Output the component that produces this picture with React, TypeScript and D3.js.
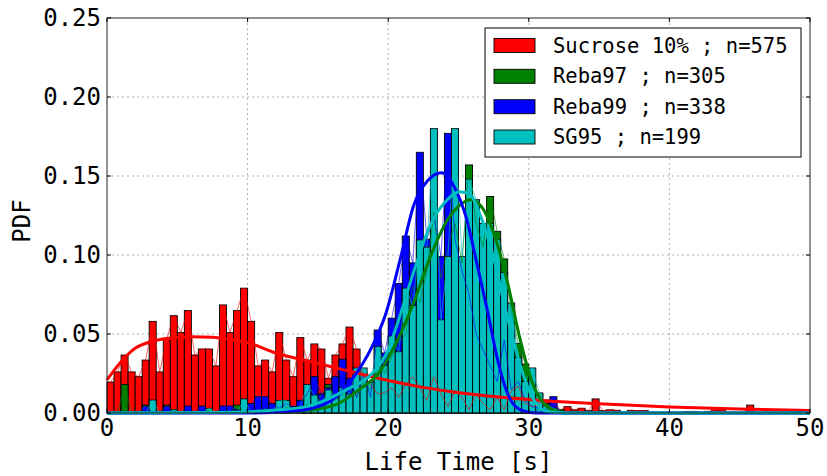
import React, { useRef, useEffect } from 'react';
import * as d3 from 'd3';

// histogram bins: 0..50 in steps of 0.5
const binEdges: number[] = d3.range(0, 50, 0.5);
const binWidth = 0.5;

const sucrose: number[] = [
  0.0196, 0.026, 0.0367, 0.026, 0.023, 0.0335, 0.058, 0.026, 0.047, 0.0616,
  0.051, 0.0648, 0.0367, 0.0405, 0.0405, 0.0298, 0.0684, 0.051, 0.0648, 0.079,
  0.058, 0.0298, 0.0335, 0.026, 0.051, 0.0335, 0.023, 0.0477, 0.0335, 0.0437,
  0.0405, 0.022, 0.0367, 0.0437, 0.0544, 0.0405, 0.022, 0.018, 0.012, 0.013,
  0.016, 0.01, 0.018, 0.023, 0.016, 0.008, 0.023, 0.012, 0.004, 0.014,
  0.01, 0.002, 0.012, 0.006, 0.002, 0.01, 0.002, 0.014, 0.017, 0.006,
  0.004, 0.006, 0.0082, 0.006, 0.002, 0.004, 0.002, 0.003, 0.0015, 0.0089,
  0.0015, 0.002, 0.0017, 0, 0.0017, 0.0015, 0.0015, 0, 0, 0,
  0, 0, 0.001, 0.001, 0, 0.001, 0.002, 0.002, 0, 0,
  0, 0.005, 0, 0, 0, 0, 0, 0, 0.002, 0,
];

const reba97: number[] = [
  0, 0, 0.018, 0, 0, 0.005, 0, 0, 0.005, 0,
  0, 0, 0, 0, 0.002, 0, 0, 0, 0.005, 0,
  0, 0, 0.003, 0, 0, 0.004, 0, 0, 0.006, 0,
  0.012, 0.018, 0.008, 0.012, 0.016, 0.01, 0.02, 0.015, 0.03, 0.025,
  0.036, 0.045, 0.05, 0.08, 0.07, 0.09, 0.127, 0.085, 0.105, 0.12,
  0.095, 0.157, 0.12, 0.105, 0.137, 0.115, 0.0975, 0.065, 0.044, 0.031,
  0.018, 0.012, 0.006, 0.003, 0.002, 0, 0.001, 0, 0, 0,
  0, 0, 0, 0, 0, 0, 0, 0, 0, 0,
  0, 0, 0, 0, 0, 0, 0, 0, 0, 0,
  0, 0, 0, 0, 0, 0, 0, 0, 0, 0,
];

const reba99: number[] = [
  0, 0, 0, 0, 0, 0.0044, 0, 0, 0.0044, 0,
  0, 0.0044, 0, 0.0044, 0, 0, 0.0044, 0.0044, 0.002, 0,
  0.006, 0.0103, 0.0103, 0.006, 0.003, 0.006, 0.004, 0.008, 0.012, 0.023,
  0.012, 0.016, 0.023, 0.034, 0.022, 0.01, 0.025, 0.01, 0.0525, 0.038,
  0.06, 0.082, 0.112, 0.095, 0.165, 0.11, 0.125, 0.099, 0.177, 0.11,
  0.09, 0.075, 0.05, 0.04, 0.03, 0.02, 0.046, 0.015, 0.02, 0.008,
  0.004, 0.003, 0.002, 0.0103, 0, 0, 0, 0, 0, 0,
  0, 0, 0, 0, 0, 0, 0, 0, 0, 0,
  0, 0, 0, 0, 0, 0, 0, 0, 0, 0,
  0, 0, 0, 0, 0, 0, 0, 0, 0, 0,
];

const sg95: number[] = [
  0, 0, 0, 0, 0, 0, 0.0082, 0, 0, 0.002,
  0, 0, 0, 0, 0.003, 0, 0, 0, 0, 0.0089,
  0, 0, 0, 0, 0.008, 0.008, 0, 0.004, 0.018, 0.0114,
  0.005, 0.0146, 0.01, 0.016, 0.012, 0.0285, 0.0285, 0.0196, 0.042, 0.03,
  0.0487, 0.0388, 0.079, 0.068, 0.1095, 0.105, 0.18, 0.059, 0.099, 0.18,
  0.099, 0.148, 0.135, 0.12, 0.12, 0.11, 0.089, 0.0696, 0.035, 0.02,
  0.0285, 0.0127, 0.005, 0.003, 0.001, 0, 0, 0, 0, 0,
  0, 0, 0, 0, 0, 0, 0, 0, 0, 0,
  0, 0, 0, 0, 0, 0, 0, 0, 0, 0,
  0, 0, 0, 0, 0, 0, 0, 0, 0, 0,
];

// fitted curves as [time, pdf]
const sucroseFit: [number, number][] = [
  [0, 0.021], [1, 0.0325], [2, 0.041], [3, 0.0448], [4.5, 0.0475], [6, 0.0482],
  [7.5, 0.048], [9, 0.0462], [10, 0.0445], [12, 0.038], [14.5, 0.0325], [17, 0.027],
  [19.3, 0.022], [22, 0.017], [24.5, 0.0135], [26.6, 0.0112], [30, 0.0085],
  [35, 0.0058], [40, 0.0038], [45, 0.0025], [50, 0.0016],
];
const reba97Fit: [number, number][] = [
  [0, 0], [12, 0.0005], [14.5, 0.002], [16.45, 0.006], [17.9, 0.0146], [19.3, 0.025],
  [20.6, 0.045], [21.8, 0.0695], [23, 0.099], [24.2, 0.122], [25.1, 0.1316],
  [25.85, 0.135], [26.6, 0.131], [27.5, 0.114], [28.5, 0.082], [29.4, 0.046],
  [30.3, 0.018], [31.3, 0.004], [32.5, 0], [50, 0],
];
const reba99Fit: [number, number][] = [
  [0, 0], [10, 0], [12, 0.0005], [13.2, 0.0012], [14.6, 0.003], [16, 0.0082],
  [17.4, 0.021], [18.85, 0.042], [19.8, 0.062], [20.9, 0.099], [21.8, 0.131],
  [22.8, 0.147], [23.8, 0.152], [24.7, 0.143], [25.6, 0.122], [26.3, 0.095],
  [27.05, 0.065], [27.8, 0.033], [28.5, 0.012], [29.4, 0.002], [30.5, 0], [50, 0],
];
const sg95Fit: [number, number][] = [
  [0, 0], [8, 0.0003], [12.2, 0.002], [14.6, 0.005], [17, 0.0146], [18.85, 0.025],
  [20, 0.04], [20.6, 0.055], [21.8, 0.089], [23, 0.119], [24.2, 0.135], [25.1, 0.14],
  [25.85, 0.138], [26.6, 0.124], [27.5, 0.098], [28.5, 0.06], [29.4, 0.03],
  [30.3, 0.009], [31.3, 0.001], [33, 0], [50, 0],
];

const labels: string[] = ['Sucrose 10% ; n=575', 'Reba97 ; n=305', 'Reba99 ; n=338', 'SG95 ; n=199'];
const colors: string[] = ['#ff0000', '#008000', '#0000ff', '#00bfbf'];
const xTicks: number[] = [0, 10, 20, 30, 40, 50];
const yTicks: number[] = [0, 0.05, 0.1, 0.15, 0.2, 0.25];

const series = [sucrose, reba97, reba99, sg95];
const fits = [sucroseFit, reba97Fit, reba99Fit, sg95Fit];

const FONT = '"DejaVu Sans Mono", monospace';

const App = () => {
  const svgRef = useRef<SVGSVGElement>(null);

  useEffect(() => {
    document.body.style.margin = '0';
    const svg = d3.select(svgRef.current);
    svg.selectAll('*').remove();

    const left = 107, right = 810, top = 18, bottom = 413;
    const x = d3.scaleLinear().domain([0, 50]).range([left, right]);
    const y = d3.scaleLinear().domain([0, 0.25]).range([bottom, top]);

    svg.append('rect').attr('width', 827).attr('height', 476).attr('fill', '#fff');

    // grid
    const grid = svg.append('g');
    xTicks.slice(1, -1).forEach(t => {
      grid.append('line').attr('x1', x(t)).attr('x2', x(t)).attr('y1', top).attr('y2', bottom)
        .attr('stroke', '#b0b0b0').attr('stroke-dasharray', '2,3');
    });
    yTicks.slice(1, -1).forEach(t => {
      grid.append('line').attr('x1', left).attr('x2', right).attr('y1', y(t)).attr('y2', y(t))
        .attr('stroke', '#b0b0b0').attr('stroke-dasharray', '2,3');
    });

    const bw = x(binWidth) - x(0);

    // bars
    series.forEach((vals, si) => {
      svg.append('g').selectAll('rect')
        .data(vals.map((v, i) => ({ v, e: binEdges[i] })).filter(d => d.v > 0))
        .enter().append('rect')
        .attr('x', d => x(d.e))
        .attr('width', bw)
        .attr('y', d => y(d.v))
        .attr('height', d => y(0) - y(d.v))
        .attr('fill', colors[si])
        .attr('stroke', '#000')
        .attr('stroke-width', 0.9);
    });

    // thin lines through bar tops
    const thin = d3.line<number>()
      .x((_, i) => x(binEdges[i] + binWidth / 2))
      .y(d => y(d));
    series.forEach((vals, si) => {
      svg.append('path').datum(vals)
        .attr('fill', 'none')
        .attr('stroke', colors[si])
        .attr('stroke-opacity', 0.6)
        .attr('stroke-width', 1)
        .attr('d', thin);
    });

    // fitted curves
    const fitLine = d3.line<[number, number]>()
      .x(d => x(d[0]))
      .y(d => y(d[1]))
      .curve(d3.curveMonotoneX);
    fits.forEach((pts, si) => {
      svg.append('path').datum(pts)
        .attr('fill', 'none')
        .attr('stroke', colors[si])
        .attr('stroke-width', 3)
        .attr('stroke-linejoin', 'round')
        .attr('d', fitLine);
    });

    // frame
    svg.append('rect').attr('x', left).attr('y', top)
      .attr('width', right - left).attr('height', bottom - top)
      .attr('fill', 'none').attr('stroke', '#222').attr('stroke-width', 1);

    // ticks
    xTicks.forEach(t => {
      svg.append('line').attr('x1', x(t)).attr('x2', x(t)).attr('y1', bottom).attr('y2', bottom - 4).attr('stroke', '#000');
      svg.append('line').attr('x1', x(t)).attr('x2', x(t)).attr('y1', top).attr('y2', top + 4).attr('stroke', '#000');
      svg.append('text').attr('x', x(t)).attr('y', 428)
        .attr('text-anchor', 'middle').attr('dominant-baseline', 'central')
        .style('font-family', FONT).style('font-size', '24px').attr('fill', '#000')
        .text(String(t));
    });
    yTicks.forEach(t => {
      svg.append('line').attr('x1', left).attr('x2', left + 4).attr('y1', y(t)).attr('y2', y(t)).attr('stroke', '#000');
      svg.append('line').attr('x1', right).attr('x2', right - 4).attr('y1', y(t)).attr('y2', y(t)).attr('stroke', '#000');
      svg.append('text').attr('x', 101).attr('y', y(t))
        .attr('text-anchor', 'end').attr('dominant-baseline', 'central')
        .style('font-family', FONT).style('font-size', '24px').attr('fill', '#000')
        .text(d3.format('.2f')(t));
    });

    // axis labels
    svg.append('text').attr('x', (left + right) / 2).attr('y', 462)
      .attr('text-anchor', 'middle').attr('dominant-baseline', 'central')
      .style('font-family', FONT).style('font-size', '24px').text('Life Time [s]');
    svg.append('text').attr('transform', `translate(22,221) rotate(-90)`)
      .attr('text-anchor', 'middle').attr('dominant-baseline', 'central')
      .style('font-family', FONT).style('font-size', '24px').text('PDF');

    // legend
    const lg = svg.append('g');
    lg.append('rect').attr('x', 485).attr('y', 28).attr('width', 316).attr('height', 129)
      .attr('fill', '#fff').attr('stroke', '#000').attr('stroke-width', 1);
    const rowY = [45.5, 76.3, 106.7, 137];
    labels.forEach((lab, i) => {
      lg.append('rect').attr('x', 494).attr('y', rowY[i] - 7).attr('width', 41).attr('height', 14)
        .attr('fill', colors[i]).attr('stroke', '#000').attr('stroke-width', 0.9);
      lg.append('text').attr('x', 553).attr('y', rowY[i])
        .attr('dominant-baseline', 'central')
        .style('font-family', FONT).style('font-size', '20.5px').text(lab);
    });
  }, []);

  return <svg ref={svgRef} width={827} height={476} style={{ display: 'block' }}></svg>;
};

export default App;
